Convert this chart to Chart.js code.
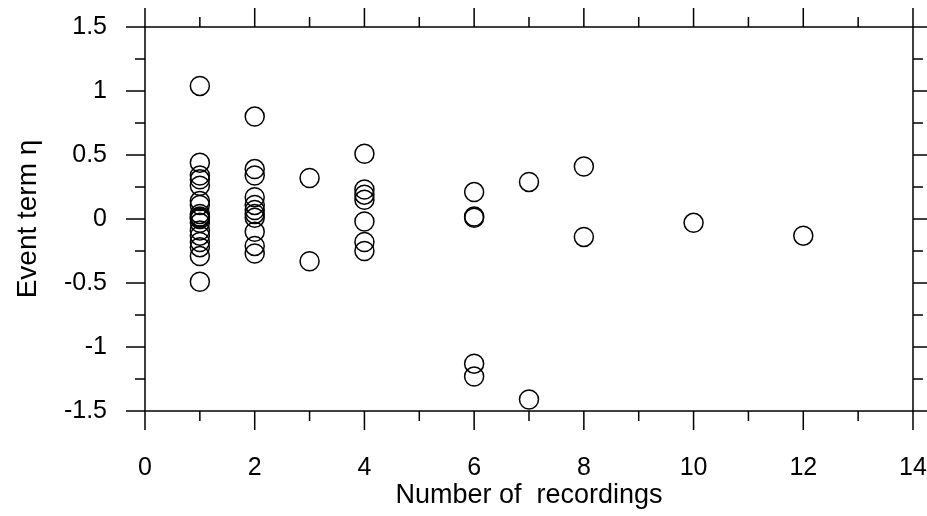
<!DOCTYPE html>
<html>
<head>
<meta charset="utf-8">
<script src="https://cdn.jsdelivr.net/npm/chart.js@4/dist/chart.umd.min.js"></script>
<style>
  html, body { margin: 0; padding: 0; background: #fff; }
  #wrap { width: 927px; height: 516px; }
</style>
</head>
<body>
<div id="wrap"><canvas id="c" width="927" height="516"></canvas></div>
<script>
// Data
const recordings = [1, 2, 3, 4, 6, 7, 8, 10, 12];
const eventTerms = [
  [1.04, 0.44, 0.34, 0.31, 0.26, 0.14, 0.11, 0.04, 0.02, 0.01, 0.0, -0.03, -0.09, -0.13, -0.18, -0.22, -0.29, -0.49],
  [0.80, 0.39, 0.34, 0.17, 0.11, 0.07, 0.04, 0.01, -0.10, -0.21, -0.27],
  [0.32, -0.33],
  [0.51, 0.23, 0.19, 0.15, -0.02, -0.18, -0.25],
  [0.21, 0.02, 0.01, -1.13, -1.23],
  [0.29, -1.41],
  [0.41, -0.14],
  [-0.03],
  [-0.13]
];
const xTicks = [0, 2, 4, 6, 8, 10, 12, 14];
const yTicks = [-1.5, -1, -0.5, 0, 0.5, 1, 1.5];
const xMinor = [1, 3, 5, 7, 9, 11, 13];
const yMinor = [-1.25, -0.75, -0.25, 0.25, 0.75, 1.25];
const xTitle = 'Number of  recordings';
const yTitle = 'Event term \u03B7';

const points = [];
recordings.forEach((n, i) => eventTerms[i].forEach(v => points.push({x: n, y: v})));

const FONT = '"Liberation Sans", Arial, sans-serif';

const framePlugin = {
  id: 'frame',
  afterDatasetsDraw(chart) {
    const {ctx, chartArea: a, scales: {x, y}} = chart;
    ctx.save();
    ctx.strokeStyle = '#000';
    ctx.lineWidth = 1.5;
    ctx.beginPath();
    ctx.rect(a.left, a.top, a.right - a.left, a.bottom - a.top);
    ctx.stroke();
    const MAJ = 19, MIN = 10;
    ctx.beginPath();
    const xt = (v, len) => {
      const p = x.getPixelForValue(v);
      ctx.moveTo(p, a.bottom); ctx.lineTo(p, a.bottom + len);
      ctx.moveTo(p, a.top); ctx.lineTo(p, a.top - len);
    };
    const yt = (v, len) => {
      const p = y.getPixelForValue(v);
      ctx.moveTo(a.left, p); ctx.lineTo(a.left - len, p);
      ctx.moveTo(a.right, p); ctx.lineTo(a.right + len, p);
    };
    xTicks.forEach(v => xt(v, MAJ));
    xMinor.forEach(v => xt(v, MIN));
    yTicks.forEach(v => yt(v, MAJ));
    yMinor.forEach(v => yt(v, MIN));
    ctx.stroke();
    ctx.restore();
  }
};

const noPad = s => { s.paddingLeft = 0; s.paddingRight = 0; s.paddingTop = 0; s.paddingBottom = 0; };

new Chart(document.getElementById('c'), {
  type: 'scatter',
  data: {
    datasets: [{
      data: points,
      pointStyle: 'circle',
      pointRadius: 9.5,
      pointHoverRadius: 9.5,
      pointBorderWidth: 1.5,
      borderColor: '#000',
      backgroundColor: 'rgba(0,0,0,0)',
      clip: false
    }]
  },
  options: {
    responsive: false,
    animation: false,
    events: [],
    layout: { padding: { top: 27, right: 14, left: 0, bottom: 0 } },
    plugins: { legend: { display: false }, tooltip: { enabled: false } },
    scales: {
      x: {
        type: 'linear', min: 0, max: 14,
        border: { display: false },
        grid: { display: false, drawTicks: false },
        afterBuildTicks: s => { s.ticks = xTicks.map(v => ({value: v})); },
        afterFit: s => { s.height = 105; noPad(s); },
        ticks: {
          color: '#000', padding: 42, maxRotation: 0,
          font: { family: FONT, size: 25 },
          callback: v => String(v)
        },
        title: {
          display: true, text: xTitle, color: '#000',
          font: { family: FONT, size: 27 },
          padding: { top: 0, bottom: 4 }
        }
      },
      y: {
        type: 'linear', min: -1.5, max: 1.5,
        border: { display: false },
        grid: { display: false, drawTicks: false },
        afterBuildTicks: s => { s.ticks = yTicks.map(v => ({value: v})); },
        afterFit: s => { s.width = 145; noPad(s); },
        ticks: {
          color: '#000', padding: 38,
          font: { family: FONT, size: 25 },
          callback: v => String(v)
        },
        title: {
          display: true, text: yTitle, color: '#000',
          font: { family: FONT, size: 28 },
          padding: { top: 11, bottom: 0 }
        }
      }
    }
  },
  plugins: [framePlugin]
});
</script>
</body>
</html>
